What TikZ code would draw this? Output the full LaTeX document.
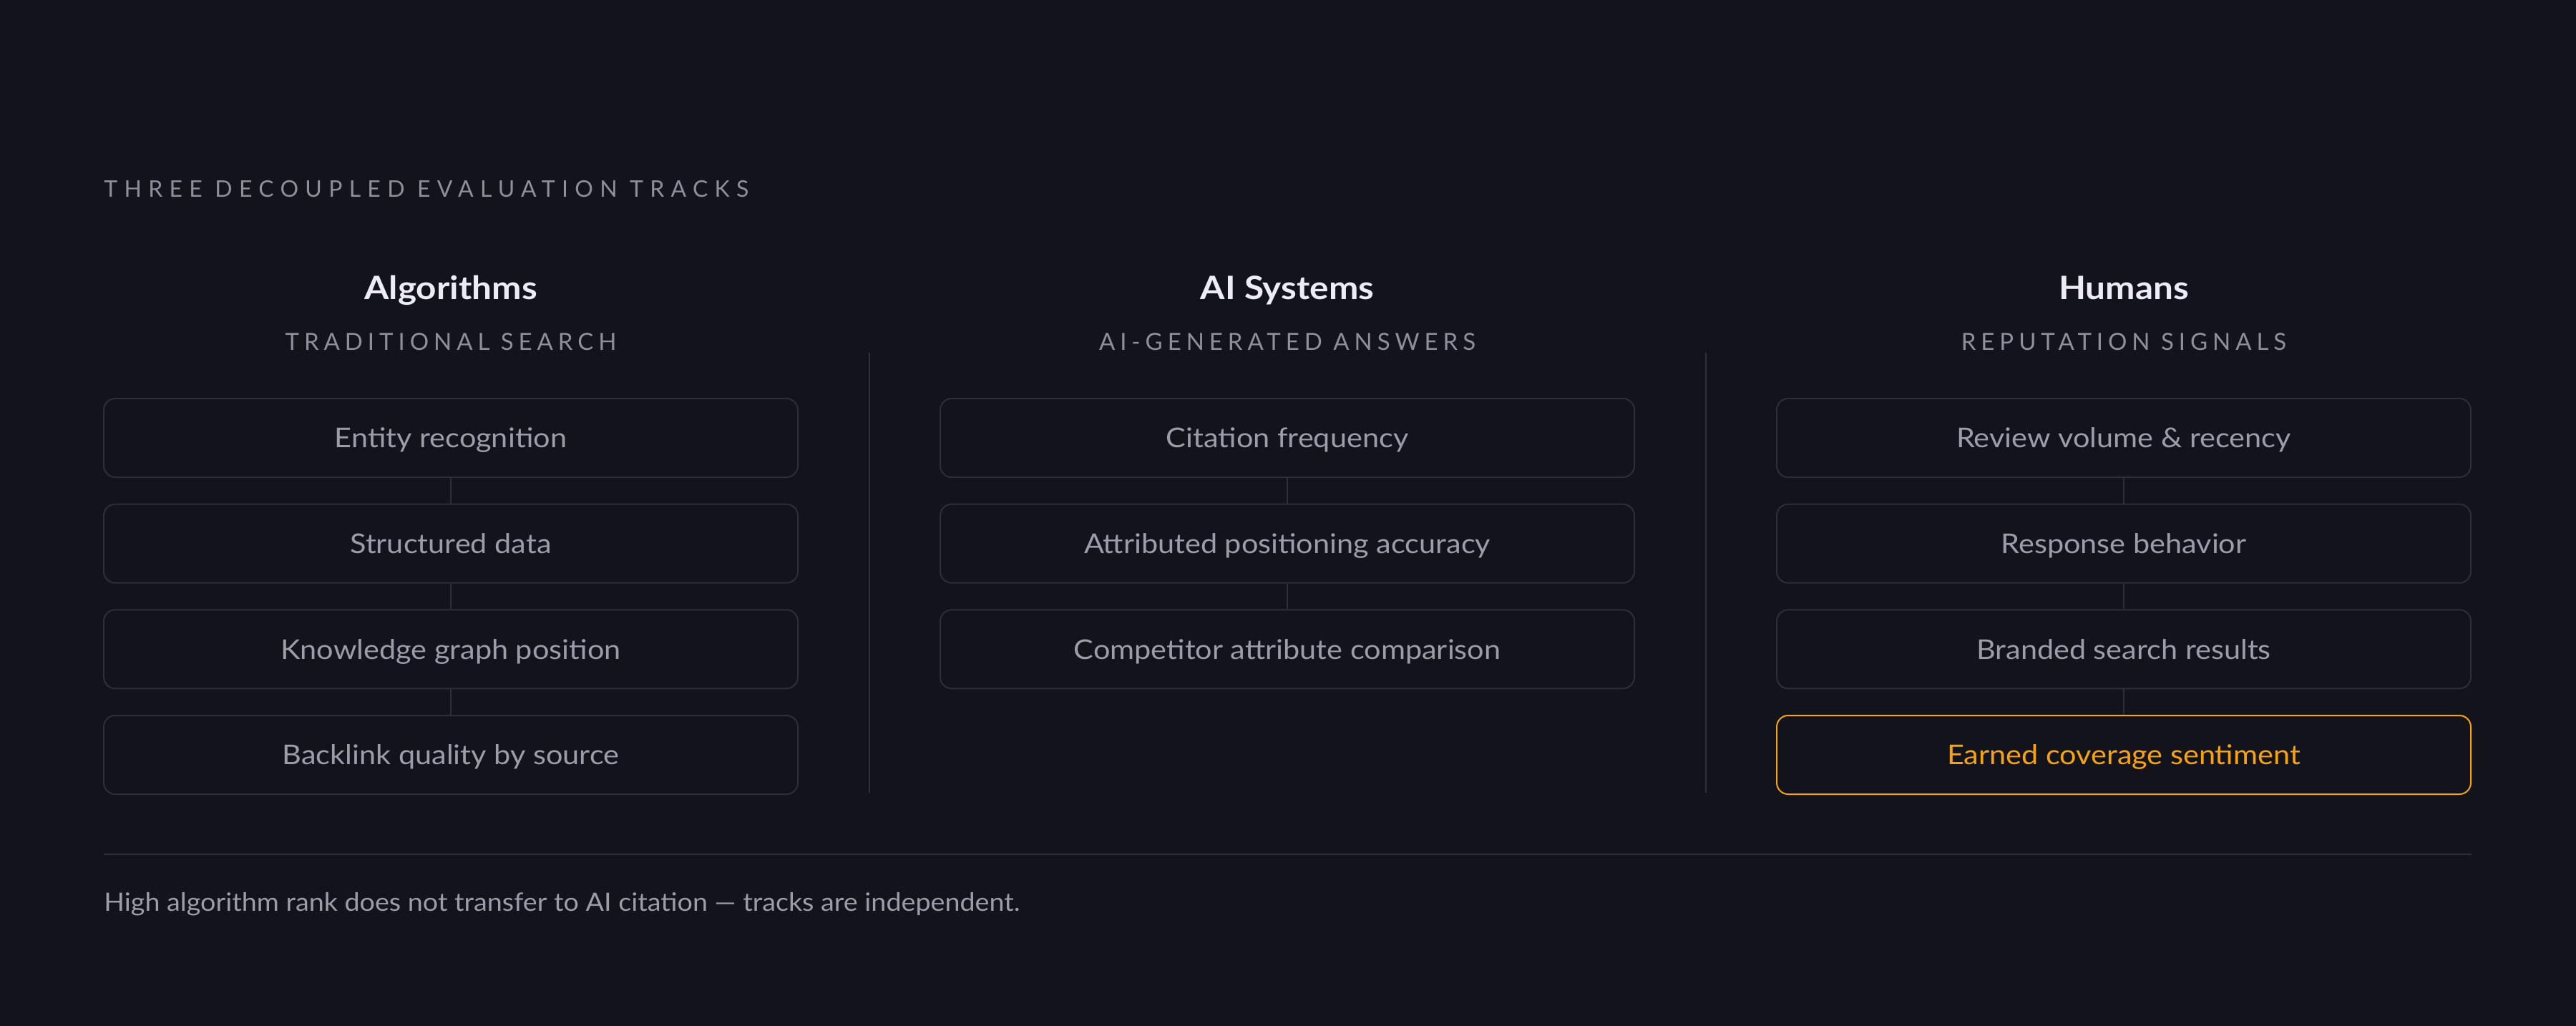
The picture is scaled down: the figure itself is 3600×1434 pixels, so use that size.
\documentclass[tikz,border=0pt]{standalone}
\usepackage{fontspec}
\setmainfont{Lato}
\definecolor{bgc}{HTML}{13131C}
\definecolor{boxline}{HTML}{2E2E3B}
\definecolor{divline}{HTML}{30303C}
\definecolor{boxtext}{HTML}{9D9CAB}
\definecolor{headtext}{HTML}{ECEBF7}
\definecolor{subtext}{HTML}{8F8E9C}
\definecolor{amber}{HTML}{F5A30F}
\begin{document}
\begin{tikzpicture}[x=0.5pt,y=-0.5pt,
  itembox/.style={draw=boxline, line width=1pt, rounded corners=8pt, fill=bgc,
    minimum width=485pt, minimum height=55pt, inner sep=0pt,
    text height=13.7pt, text depth=0pt,
    text=boxtext, font=\fontsize{19}{20}\selectfont\addfontfeatures{FakeStretch=1.09}},
  hotbox/.style={itembox, draw=amber, text=amber},
  link/.style={draw=boxline, line width=1pt},
  divider/.style={draw=divline, line width=1pt},
  headlabel/.style={anchor=base, inner sep=0pt, text=headtext, font=\fontsize{22.5}{24}\selectfont\bfseries\addfontfeatures{FakeStretch=1.1}},
  sublabel/.style={anchor=base, inner sep=0pt, text=subtext, font=\fontsize{16.5}{18}\selectfont\addfontfeatures{LetterSpace=21}},
  toplabel/.style={anchor=base west, inner sep=0pt, text=subtext, font=\fontsize{16}{18}\selectfont\addfontfeatures{LetterSpace=29}},
  footlabel/.style={anchor=base west, inner sep=0pt, text=boxtext, font=\fontsize{17.7}{19}\selectfont\addfontfeatures{FakeStretch=1.065}}
]
\fill[bgc] (0,0) rectangle (3600,1434);
\useasboundingbox (0,0) rectangle (3600,1434);

\node[toplabel] (title) at (145,275) {THREE DECOUPLED EVALUATION TRACKS};

% column 1
\node[headlabel] (h1) at (630,418) {Algorithms};
\node[sublabel] (s1) at (630,489) {TRADITIONAL SEARCH};
\node[itembox] (a1) at (630,612) {Entity recognition};
\node[itembox] (a2) at (630,759.7) {Structured data};
\node[itembox] (a3) at (630,907.3) {Knowledge graph position};
\node[itembox] (a4) at (630,1055) {Backlink quality by source};
\draw[link] (a1.south) -- (a2.north);
\draw[link] (a2.south) -- (a3.north);
\draw[link] (a3.south) -- (a4.north);

% column 2
\node[headlabel] (h2) at (1799,418) {AI Systems};
\node[sublabel] (s2) at (1799,489) {AI-GENERATED ANSWERS};
\node[itembox] (b1) at (1799,612) {Citation frequency};
\node[itembox] (b2) at (1799,759.7) {Attributed positioning accuracy};
\node[itembox] (b3) at (1799,907.3) {Competitor attribute comparison};
\draw[link] (b1.south) -- (b2.north);
\draw[link] (b2.south) -- (b3.north);

% column 3
\node[headlabel] (h3) at (2968,418) {Humans};
\node[sublabel] (s3) at (2968,489) {REPUTATION SIGNALS};
\node[itembox] (c1) at (2968,612) {Review volume \& recency};
\node[itembox] (c2) at (2968,759.7) {Response behavior};
\node[itembox] (c3) at (2968,907.3) {Branded search results};
\node[hotbox] (c4) at (2968,1055) {Earned coverage sentiment};
\draw[link] (c1.south) -- (c2.north);
\draw[link] (c2.south) -- (c3.north);
\draw[link] (c3.south) -- (c4.north);

% dividers
\coordinate (d1t) at (1214.5,493);
\coordinate (d1b) at (1214.5,1108);
\coordinate (d2t) at (2383.5,493);
\coordinate (d2b) at (2383.5,1108);
\draw[divider] (d1t) -- (d1b);
\draw[divider] (d2t) -- (d2b);

% rule and footer
\coordinate (rl) at (145,1194);
\coordinate (rr) at (3454,1194);
\draw[divider] (rl) -- (rr);
\node[footlabel] (foot) at (145,1273) {High algorithm rank does not transfer to AI citation — tracks are independent.};
\end{tikzpicture}
\end{document}
